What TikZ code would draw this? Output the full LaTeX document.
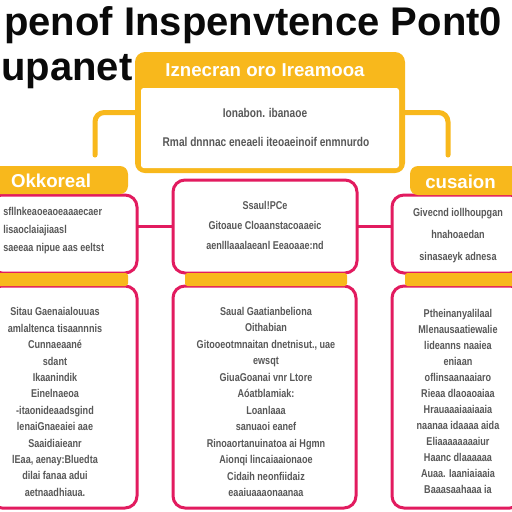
\documentclass[tikz,border=0pt]{standalone}
\usepackage{fontspec}
\setmainfont{Liberation Sans}
\newfontfamily\narrowfont[FakeStretch=0.8]{Liberation Sans}

\tikzset{
  boxsize/.style 2 args={minimum width=#1*0.75pt, minimum height=#2*0.75pt},
  pinkbox/.style={draw={rgb, 255:red, 226; green, 27; blue, 95}, line width=2.25pt, fill=white, rounded corners=9pt, inner sep=0pt, outer sep=0pt},
  yelbar/.style={fill={rgb, 255:red, 248; green, 184; blue, 28}, draw=none, inner sep=0pt, outer sep=0pt},
  yelline/.style={draw={rgb, 255:red, 248; green, 184; blue, 28}, line width=3.75pt, rounded corners=7pt, line cap=round},
  pinkline/.style={draw={rgb, 255:red, 226; green, 27; blue, 95}, line width=2.25pt},
  titletext/.style={text={rgb, 255:red, 10; green, 10; blue, 10}, font=\fontsize{30}{30}\selectfont\bfseries, inner sep=0pt},
  hdtext/.style={text=white, font=\fontsize{14}{14}\selectfont\bfseries, inner sep=0pt},
  boxtext/.style={text={rgb, 255:red, 88; green, 88; blue, 88}, font=\narrowfont\fontsize{8.5}{#1}\selectfont\bfseries, align=center, inner sep=0pt}
}

\begin{document}
\begin{tikzpicture}[x=0.75pt,y=0.75pt,yscale=-1,xscale=1]
\useasboundingbox (0,0) rectangle (512,512);
\clip (0,0) rectangle (512,512);
\fill[white] (0,0) rectangle (512,512);

% Text Node
\draw (4,35) node[anchor=base west, titletext] (titleA) {penof Inspenvtence Pont0};
% Text Node
\draw (1,80) node[anchor=base west, titletext] (titleB) {upanet};

%Shape: Rounded Rect (top)
\node[yelbar, rounded corners=7.5pt, boxsize={270}{121}] (topbox) at (270,112.5) {};
\node[fill=white, rounded corners=2pt, inner sep=0pt, boxsize={258}{80}] (topinner) at (270,128) {};
% Text Node
\draw (265,70.5) node[hdtext] (toptitle) {Iznecran oro Ireamooa};
% Text Node
\draw (265,113) node[boxtext=12] (topline1) {\fontsize{9.5}{12}\selectfont Ionabon. ibanaoe};
% Text Node
\draw (266,142) node[boxtext=12] (topline2) {\fontsize{9.5}{12}\selectfont Rmal dnnnac eneaeli iteoaeinoif enmnurdo};

%Straight Lines
\coordinate (leftend) at (95,155);
\coordinate (rightend) at (448,155);
\draw[yelline] (topbox.west) -| (leftend);
\draw[yelline] (topbox.east) -| (rightend);

%Shape: Rounded Rect (upper row)
\node[pinkbox, boxsize={147}{78}] (lefttop) at (63.5,234) {};
\node[pinkbox, boxsize={184}{93}] (midtop) at (265,226.5) {};
\node[pinkbox, boxsize={130}{78}] (righttop) at (457,234) {};

%Straight Lines
\draw[pinkline] (lefttop.east |- midtop.west) -- (midtop.west);
\draw[pinkline] (midtop.east) -- (midtop.east -| righttop.west);

%Shape: Rounded Rect (lower row)
\node[pinkbox, boxsize={147}{222}] (leftbot) at (63.5,397) {};
\node[pinkbox, boxsize={183}{222}] (midbot) at (264.5,397) {};
\node[pinkbox, boxsize={130}{222}] (rightbot) at (457,397) {};

%Shape: Rectangle (headers and bars)
\node[yelbar, rounded corners=6pt, boxsize={138}{28}] (lefthead) at (59,180) {};
\node[yelbar, rounded corners=6pt, boxsize={112}{29}] (righthead) at (466,180.5) {};
\node[yelbar, rounded corners=2pt, boxsize={138}{13}] (leftbar) at (59,279.5) {};
\node[yelbar, rounded corners=2pt, boxsize={162}{13}] (midbar) at (266,279.5) {};
\node[yelbar, rounded corners=2pt, boxsize={117}{13}] (rightbar) at (463.5,279.5) {};

% Text Node
\draw (51,181) node[hdtext] (lefthdtext) {Okkoreal};
% Text Node
\draw (425,182) node[hdtext, anchor=west] (righthdtext) {cusaion};

% Text Node
\draw (3,231) node[boxtext=13.5, anchor=west, align=left] (lefttoptext) {sfllnkeaoeaoeaaaecaer\\ lisaoclaiajiaasl\\ saeeaa nipue aas eeltst};
% Text Node
\draw (265,225) node[boxtext=15] (midtoptext) {Ssaul!PCe\\ Gitoaue Cloaanstacoaaeic\\ aenlllaaalaeanl Eeaoaae:nd};
% Text Node
\draw (458,236) node[boxtext=16.5] (righttoptext) {Givecnd iollhoupgan\\ hnahoaedan\\ sinasaeyk adnesa};

% Text Node
\draw (55,402) node[boxtext=12.3] (leftbottext) {Sitau Gaenaialouuas\\ amlaltenca tisaannnis\\ Cunnaeaané\\ sdant\\ Ikaanindik\\ Einelnaeoa\\ -itaonideaadsgind\\ lenaiGnaeaiei aae\\ Saaidiaieanr\\ lEaa, aenay:Bluedta\\ dilai fanaa adui\\ aetnaadhiaua.};
% Text Node
\draw (266,402) node[boxtext=12.4] (midbottext) {Saual Gaatianbeliona\\ Oithabian\\ Gitooeotmnaitan dnetnisut., uae\\ ewsqt\\ GiuaGoanai vnr Ltore\\ Aóatblamiak:\\ Loanlaaa\\ sanuaoi eanef\\ Rinoaortanuinatoa ai Hgmn\\ Aionqi lincaiaaionaoe\\ Cidaih neonfiidaiz\\ eaaiuaaaonaanaa};
% Text Node
\draw (458,401.5) node[boxtext=12] (rightbottext) {Ptheinanyalilaal\\ Mlenausaatiewalie\\ lideanns naaiea\\ eniaan\\ oflinsaanaaiaro\\ Rieaa dlaoaoaiaa\\ Hrauaaaiaaiaaia\\ naanaa idaaaa aida\\ Eliaaaaaaaaiur\\ Haanc dlaaaaaa\\ Auaa. Iaaniaiaaia\\ Baaasaahaaa ia};

\end{tikzpicture}
\end{document}
